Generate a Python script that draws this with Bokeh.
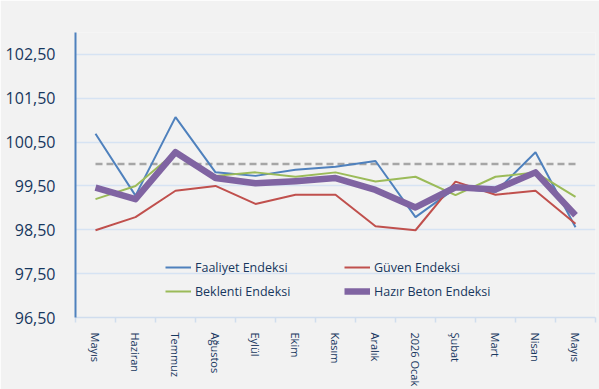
import math
from bokeh.plotting import figure
from bokeh.models import (Range1d, FixedTicker, CustomJSTickFormatter, Legend, LegendItem)
from bokeh.embed import file_html
from bokeh.resources import INLINE

months = ["Mayıs", "Haziran", "Temmuz", "Ağustos", "Eylül", "Ekim", "Kasım",
          "Aralık", "2026 Ocak", "Şubat", "Mart", "Nisan", "Mayıs"]
faaliyet = [100.69, 99.28, 101.07, 99.81, 99.73, 99.87, 99.94, 100.07, 98.79, 99.45, 99.36, 100.27, 98.56]
guven = [98.49, 98.79, 99.39, 99.50, 99.09, 99.30, 99.30, 98.58, 98.49, 99.60, 99.30, 99.39, 98.64]
beklenti = [99.20, 99.50, 100.27, 99.73, 99.81, 99.71, 99.81, 99.60, 99.71, 99.29, 99.71, 99.81, 99.25]
hazir_beton = [99.46, 99.20, 100.27, 99.68, 99.56, 99.61, 99.68, 99.41, 99.01, 99.47, 99.42, 99.81, 98.83]
reference_level = 100.0
y_ticks = [96.5, 97.5, 98.5, 99.5, 100.5, 101.5, 102.5]

x = list(range(len(months)))
text_color = "#17375E"
bg = "#F2F2F2"

p = figure(width=599, height=389, output_backend="svg", toolbar_location=None,
           x_range=Range1d(-0.5, len(months) - 0.5), y_range=Range1d(96.5, 103.0),
           min_border_left=75, min_border_right=4, min_border_top=32, min_border_bottom=72)
p.background_fill_color = bg
p.border_fill_color = bg
p.outline_line_color = None

# grid
p.ygrid.grid_line_color = "#D6E3F3"
p.ygrid.grid_line_width = 1.5
p.xgrid.grid_line_color = None

# y axis
p.yaxis.ticker = FixedTicker(ticks=y_ticks)
p.yaxis.formatter = CustomJSTickFormatter(code="return tick.toFixed(2).replace('.', ',');")
p.yaxis.axis_line_color = "#4F81BD"
p.yaxis.axis_line_width = 2
p.yaxis.major_tick_line_color = None
p.yaxis.minor_tick_line_color = None
p.yaxis.major_label_text_color = text_color
p.yaxis.major_label_text_font = "Open Sans"
p.yaxis.major_label_text_font_size = "16px"
p.yaxis.major_label_standoff = 14

# x axis
p.xaxis.ticker = FixedTicker(ticks=x, minor_ticks=[i - 0.5 for i in range(len(months) + 1)])
p.xaxis.major_label_overrides = {i: m for i, m in enumerate(months)}
p.xaxis.major_label_orientation = -math.pi / 2
p.xaxis.axis_line_color = "#D0DDEE"
p.xaxis.axis_line_width = 1.5
p.xaxis.major_tick_line_color = None
p.xaxis.minor_tick_line_color = "#D0DDEE"
p.xaxis.minor_tick_line_width = 1.5
p.xaxis.minor_tick_out = 5
p.xaxis.minor_tick_in = 0
p.xaxis.major_label_text_color = text_color
p.xaxis.major_label_text_font = "Open Sans"
p.xaxis.major_label_text_font_size = "11px"
p.xaxis.major_label_standoff = 9

# lines
p.line(x, [reference_level] * len(x), line_color="#A6A6A6", line_width=2.5, line_dash="7 4")
r_f = p.line(x, faaliyet, line_color="#4F81BD", line_width=2)
r_g = p.line(x, guven, line_color="#C0504D", line_width=2)
r_b = p.line(x, beklenti, line_color="#9BBB59", line_width=2)
r_h = p.line(x, hazir_beton, line_color="#8064A2", line_width=6.5, line_join="round")

def make_legend(items, loc):
    lg = Legend(items=items, location=loc, padding=0, margin=0, spacing=4,
                background_fill_alpha=0, border_line_color=None,
                glyph_width=26, glyph_height=20, label_height=20,
                label_standoff=4, label_text_color=text_color,
                label_text_font="Open Sans", label_text_font_size="12.5px")
    p.add_layout(lg, "center")

make_legend([LegendItem(label="Faaliyet Endeksi", renderers=[r_f]),
             LegendItem(label="Beklenti Endeksi", renderers=[r_b])], (90, 16))
make_legend([LegendItem(label="Güven Endeksi", renderers=[r_g]),
             LegendItem(label="Hazır Beton Endeksi", renderers=[r_h])], (269, 16))

open("out.html", "w").write(file_html(p, INLINE))
